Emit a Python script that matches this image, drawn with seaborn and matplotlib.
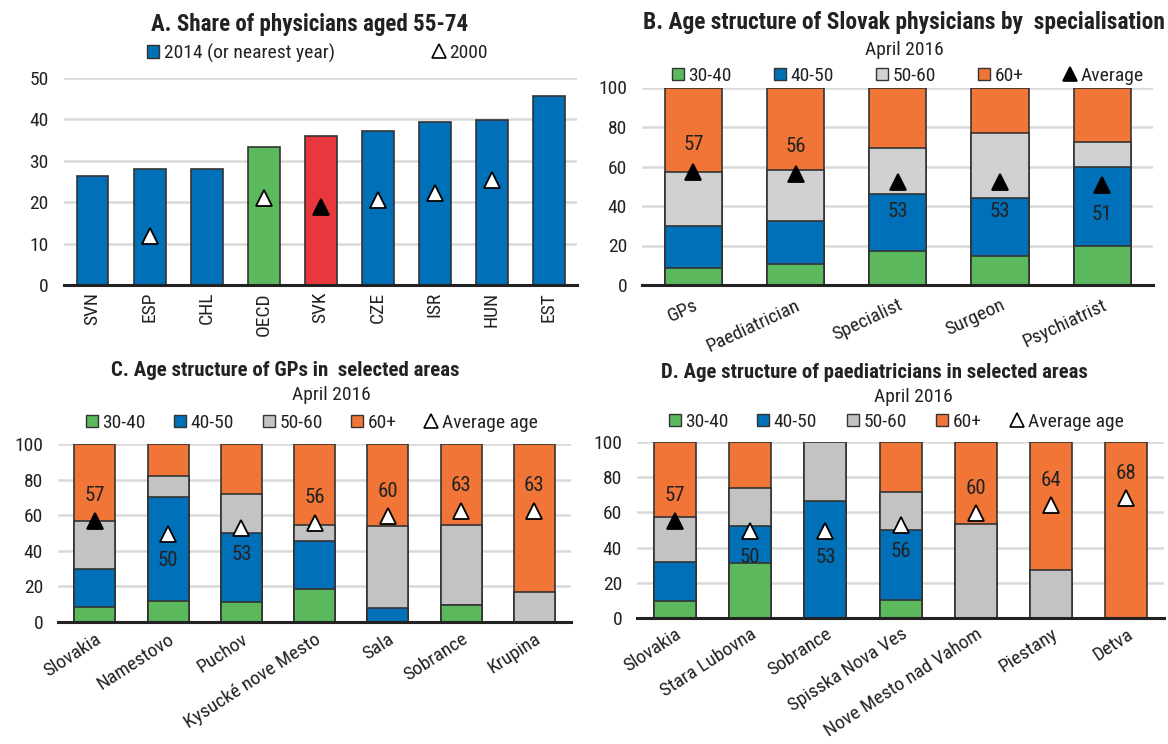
import matplotlib
matplotlib.use("Agg")
import matplotlib.pyplot as plt
from matplotlib import font_manager as fm
import seaborn as sns
import pandas as pd
import numpy as np
from matplotlib.patches import Patch
from matplotlib.lines import Line2D

# ---------------- data ----------------
# Panel A
a_countries = ["SVN", "ESP", "CHL", "OECD", "SVK", "CZE", "ISR", "HUN", "EST"]
a_2014 = [26.4, 27.9, 28.0, 33.2, 35.9, 37.1, 39.2, 39.8, 45.6]
a_2000 = [np.nan, 11.8, np.nan, 20.9, 18.9, 20.5, 22.1, 25.3, np.nan]

# Panel B
b_spec = ["GPs", "Paediatrician", "Specialist", "Surgeon", "Psychiatrist"]
b_30_40 = [8.8, 10.8, 17.2, 14.8, 19.7]
b_40_50 = [20.9, 21.7, 28.7, 29.0, 40.0]
b_50_60 = [27.3, 25.7, 23.6, 33.4, 12.8]
b_60p = [43.0, 41.5, 30.5, 22.8, 27.5]
b_avg = [57.0, 56.0, 52.3, 52.3, 50.6]
b_avg_label = ["57", "56", "53", "53", "51"]
b_label_side = ["above", "above", "below", "below", "below"]

# Panel C
c_areas = ["Slovakia", "Namestovo", "Puchov", "Kysucké nove Mesto", "Sala", "Sobrance", "Krupina"]
c_30_40 = [8.5, 11.7, 11.1, 18.2, 0.0, 9.2, 0.0]
c_40_50 = [21.0, 58.6, 38.9, 27.3, 7.9, 0.0, 0.0]
c_50_60 = [27.3, 11.8, 22.2, 9.2, 45.9, 45.5, 16.7]
c_60p = [43.2, 17.9, 27.8, 45.3, 46.2, 45.3, 83.3]
c_avg = [57.0, 49.4, 52.6, 55.8, 59.6, 62.6, 62.6]
c_avg_label = ["57", "50", "53", "56", "60", "63", "63"]
c_label_side = ["above", "below", "below", "above", "above", "above", "above"]

# Panel D
d_areas = ["Slovakia", "Stara Lubovna", "Sobrance", "Spisska Nova Ves",
           "Nove Mesto nad Vahom", "Piestany", "Detva"]
d_30_40 = [9.8, 31.3, 0.0, 10.2, 0.0, 0.0, 0.0]
d_40_50 = [22.1, 21.0, 66.6, 40.0, 0.0, 0.0, 0.0]
d_50_60 = [25.6, 21.5, 33.4, 21.5, 53.6, 27.4, 0.0]
d_60p = [42.1, 26.2, 0.0, 28.3, 46.4, 72.6, 100.0]
d_avg = [55.3, 49.4, 49.6, 52.8, 59.4, 64.2, 67.9]
d_avg_label = ["57", "50", "53", "56", "60", "64", "68"]
d_label_side = ["above", "below", "below", "below", "above", "above", "above"]

age_groups = ["30-40", "40-50", "50-60", "60+"]

# ---------------- style ----------------
BLUE = "#0070B8"
GREEN = "#5CB85C"
RED = "#E8383D"
ORANGE = "#F07537"
GREY_B = "#D0D1D3"
GREY_CD = "#C3C3C3"
EDGE = "#333333"
TXT = "#222222"
GRID = "#D9D9D9"
colors_b = [GREEN, BLUE, GREY_B, ORANGE]
colors_cd = [GREEN, BLUE, GREY_CD, ORANGE]

sns.set_style("white")

# choose a narrow font if one is available
entries = fm.fontManager.ttflist
names = {e.name for e in entries}
narrow = None
stretch = "normal"
for cand in ["Liberation Sans Narrow", "Arial Narrow", "Roboto Condensed",
             "Open Sans Condensed", "Noto Sans Condensed"]:
    if cand in names:
        narrow = cand
        break
if narrow is None:
    for e in entries:
        if e.name in ("Noto Sans", "Open Sans", "Roboto") and \
                str(e.stretch) in ("condensed", "semi-condensed", "extra-condensed"):
            narrow = e.name
            stretch = str(e.stretch)
            break
if narrow is not None:
    FAMILY = [narrow, "DejaVu Sans"]
    FS = 14
else:
    FAMILY = ["Liberation Sans", "DejaVu Sans"]
    FS = 12
plt.rcParams["font.family"] = FAMILY
plt.rcParams["font.stretch"] = stretch
plt.rcParams["text.color"] = TXT

W, H = 1168, 744
fig = plt.figure(figsize=(W / 100, H / 100), dpi=100)
renderer = fig.canvas.get_renderer()


def px_axes(left, right, top, bottom):
    return fig.add_axes([left / W, 1 - bottom / H, (right - left) / W, (bottom - top) / H])


axA = px_axes(64, 577.3, 77.7, 285)
axB = px_axes(642.3, 1153.3, 87.5, 285)
axC = px_axes(58.3, 571, 444.3, 621.7)
axD = px_axes(637.3, 1164, 441.7, 618.3)

BAR_W = 0.56


def style_axes(ax, cats, ymax, step, rot, ha, pad_x):
    ax.set_xlim(-0.5, len(cats) - 0.5)
    ax.set_ylim(0, ymax)
    ax.set_yticks(np.arange(0, ymax + 1, step))
    ax.yaxis.grid(True, color=GRID, linewidth=1.8)
    ax.xaxis.grid(False)
    ax.set_axisbelow(True)
    for s in ["left", "right", "top"]:
        ax.spines[s].set_visible(False)
    ax.spines["bottom"].set_color(TXT)
    ax.spines["bottom"].set_linewidth(2.2)
    ax.tick_params(axis="both", length=0, labelsize=FS, colors=TXT)
    ax.tick_params(axis="y", pad=11)
    ax.tick_params(axis="x", pad=pad_x)
    ax.set_xticks(range(len(cats)))
    ax.set_xticklabels(cats, rotation=rot, ha=ha,
                       rotation_mode="anchor" if rot not in (0, 90) else "default")
    ax.set_xlabel("")
    ax.set_ylabel("")


def stacked(ax, cats, layers, colors):
    cum = np.zeros(len(cats))
    tops = []
    for vals in layers:
        cum = cum + np.asarray(vals, dtype=float)
        tops.append(cum.copy())
    for top, col in reversed(list(zip(tops, colors))):
        sns.barplot(x=cats, y=top, order=cats, color=col, width=BAR_W, saturation=1,
                    edgecolor=EDGE, linewidth=1.2, errorbar=None, ax=ax)


def triangles(ax, cats, vals, fills, size=11):
    df = pd.DataFrame({"cat": cats, "val": vals, "fill": fills}).dropna()
    for fill in ["white", "black"]:
        sub = df[df["fill"] == fill]
        if len(sub):
            sns.pointplot(data=sub, x="cat", y="val", order=cats, color=fill,
                          markers="^", linestyles="none", markersize=size,
                          markeredgecolor="black", markeredgewidth=1.3,
                          errorbar=None, ax=ax, zorder=5)


def value_labels(ax, vals, labels, sides):
    for i, (v, lab, side) in enumerate(zip(vals, labels, sides)):
        off = 14 if side == "above" else -15
        ax.text(i, v + off, lab, ha="center", va="center", fontsize=FS + 1, color=TXT, zorder=6)


def legend_row(items, xs, y):
    for (handle, label), x in zip(items, xs):
        fig.legend(handles=[handle], labels=[label], loc="center left",
                   bbox_to_anchor=(x / W, 1 - y / H), frameon=False, fontsize=FS,
                   handlelength=0.6, handleheight=0.6, handletextpad=0.25,
                   borderpad=0, borderaxespad=0)


def fit_text(xc, y, s, target_w, max_size, **kw):
    t = fig.text(xc / W, 1 - y / H, s, ha="center", va="center", fontsize=max_size, **kw)
    w = t.get_window_extent(renderer=renderer).width
    if w > target_w:
        t.set_fontsize(max_size * target_w / w)
    return t


def sq(color):
    return Patch(facecolor=color, edgecolor=EDGE, linewidth=1.0)


def tri(face, size=10):
    return Line2D([], [], marker="^", linestyle="none", markerfacecolor=face,
                  markeredgecolor="black", markeredgewidth=1.2, markersize=size)


# ---------------- Panel A ----------------
a_palette = {c: BLUE for c in a_countries}
a_palette["OECD"] = GREEN
a_palette["SVK"] = RED
sns.barplot(x=a_countries, y=a_2014, order=a_countries, hue=a_countries,
            palette=a_palette, legend=False, width=BAR_W, saturation=1,
            edgecolor=EDGE, linewidth=1.2, errorbar=None, ax=axA)
triangles(axA, a_countries, a_2000, ["black" if c == "SVK" else "white" for c in a_countries])
style_axes(axA, a_countries, 50, 10, 90, "center", 5)

fit_text(310, 25, "A. Share of physicians aged 55-74", 318, 17, fontweight="bold")
legend_row([(sq(BLUE), "2014 (or nearest year)"), (tri("white"), "2000")], [147, 433], 53)

# ---------------- Panel B ----------------
stacked(axB, b_spec, [b_30_40, b_40_50, b_50_60, b_60p], colors_b)
triangles(axB, b_spec, b_avg, ["black"] * len(b_spec))
value_labels(axB, b_avg, b_avg_label, b_label_side)
style_axes(axB, b_spec, 100, 20, 25, "right", 8)

fit_text(904, 22, "B. Age structure of Slovak physicians by  specialisation", 522, 17,
         fontweight="bold")
fig.text(904 / W, 1 - 50 / H, "April 2016", ha="center", va="center", fontsize=FS)
legend_row([(sq(c), g) for c, g in zip(colors_b, age_groups)] + [(tri("black"), "Average")],
           [672, 774, 876, 978, 1064], 76)

# ---------------- Panel C ----------------
stacked(axC, c_areas, [c_30_40, c_40_50, c_50_60, c_60p], colors_cd)
triangles(axC, c_areas, c_avg, ["black" if a == "Slovakia" else "white" for a in c_areas])
value_labels(axC, c_avg, c_avg_label, c_label_side)
style_axes(axC, c_areas, 100, 20, 33, "right", 6)

fit_text(285, 370, "C. Age structure of GPs in  selected areas", 350, 15, fontweight="bold")
fig.text(331 / W, 1 - 395 / H, "April 2016", ha="center", va="center", fontsize=FS)
legend_row([(sq(c), g) for c, g in zip(colors_cd, age_groups)] + [(tri("white"), "Average age")],
           [86, 174, 263, 351, 425], 423)

# ---------------- Panel D ----------------
stacked(axD, d_areas, [d_30_40, d_40_50, d_50_60, d_60p], colors_cd)
triangles(axD, d_areas, d_avg, ["black" if a == "Slovakia" else "white" for a in d_areas])
value_labels(axD, d_avg, d_avg_label, d_label_side)
style_axes(axD, d_areas, 100, 20, 33, "right", 5)

fit_text(874, 372, "D. Age structure of paediatricians in selected areas", 428, 15,
         fontweight="bold")
fig.text(913 / W, 1 - 397 / H, "April 2016", ha="center", va="center", fontsize=FS)
legend_row([(sq(c), g) for c, g in zip(colors_cd, age_groups)] + [(tri("white"), "Average age")],
           [669, 757, 847, 936, 1011], 422)

fig.savefig("out.png", dpi=100, facecolor="white")
